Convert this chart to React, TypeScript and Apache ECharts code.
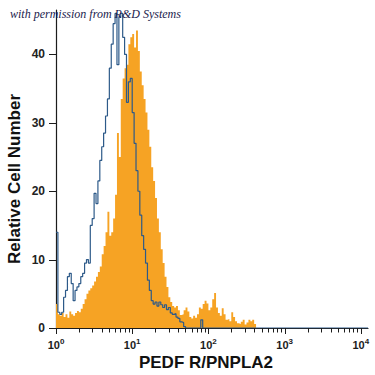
import React, { useEffect, useRef } from "react";
import * as echarts from "echarts";

// Histogram bins in log10 space (each bin is 0.025 decade wide, starting at 10^0)
const BIN_LOG_WIDTH = 0.025;
const X_LOG_MIN = 0;
const X_LOG_MAX = 4.094;
const Y_MAX = 46.5;

// PEDF R / PNPLA2 stained cells (orange filled histogram)
const stainedCounts = [
  3.5, 2.0, 1.8, 2.2, 1.6, 2.0, 1.5, 2.4, 2.0, 1.8,
  2.2, 2.5, 2.3, 2.8, 3.5, 4.2, 5.0, 5.5, 5.8, 6.2,
  6.8, 7.5, 8.2, 9.0, 10.8, 12.0, 14.0, 17.0, 13.5, 14.0,
  16.0, 19.5, 28.5, 25.0, 33.5, 36.5, 38.0, 38.5, 41.5, 42.5,
  43.0, 41.0, 43.5, 40.5, 37.5, 35.5, 33.5, 31.5, 29.0, 26.5,
  23.5, 21.5, 19.0, 16.0, 14.0, 11.5, 9.5, 7.5, 6.0, 4.5,
  3.8, 3.2, 3.0, 3.2, 2.6, 1.9, 2.0, 2.6, 3.0, 2.4,
  1.6, 1.4, 1.8, 1.5, 2.0, 3.0, 2.8, 3.5, 4.0, 3.6,
  2.6, 3.0, 4.2, 5.1, 3.0, 2.2, 1.8, 2.9, 2.0, 1.2,
  1.3, 1.0, 2.3, 1.6, 1.0, 0.7, 0.6, 0.9, 1.2, 0.5,
  0.8, 1.2, 1.0, 1.2, 0.6,
];

// Isotype control (blue outline histogram)
const isotypeCounts = [
  14.0, 2.3, 2.0, 2.3, 4.5, 5.5, 7.5, 8.0, 6.5, 4.0,
  5.5, 6.0, 6.5, 7.5, 8.0, 9.5, 10.0, 9.5, 15.0, 16.0,
  19.7, 18.2, 21.5, 24.5, 26.5, 28.5, 31.0, 33.5, 38.0, 41.5,
  44.5, 46.0, 38.5, 45.5, 46.0, 42.5, 40.0, 33.0, 36.0, 36.5,
  31.5, 27.0, 23.0, 20.0, 16.5, 13.5, 11.5, 9.5, 7.0, 5.5,
  4.0, 3.5, 3.8, 3.2, 3.8, 3.4, 3.0, 3.4, 2.7, 3.0,
  2.2, 2.0, 2.1, 1.6, 1.4, 0.9, 0.8, 0.2, 0, 0,
  0, 0, 0, 0, 0, 0, 1.2, 0,
];

const xDecades = [0, 1, 2, 3, 4];
const minorMultipliers = [2, 3, 4, 5, 6, 7, 8, 9];
const yTickValues = [0, 10, 20, 30, 40];

const ORANGE = "#F6A324";
const BLUE = "#2D5A89";
const INK = "#1c1c1c";

function stepData(counts: number[], tailTo?: number) {
  const pts: number[][] = counts.map((v, i) => [X_LOG_MIN + i * BIN_LOG_WIDTH, v]);
  pts.push([X_LOG_MIN + counts.length * BIN_LOG_WIDTH, 0]);
  if (tailTo !== undefined) pts.push([tailTo, 0]);
  return pts;
}

export default function App() {
  const ref = useRef<HTMLDivElement>(null);

  useEffect(() => {
    if (!ref.current) return;
    const chart = echarts.init(ref.current, undefined, { renderer: "svg" });

    const xTickPositions: number[] = [];
    xDecades.forEach((d) => {
      xTickPositions.push(d);
      if (d < xDecades[xDecades.length - 1]) {
        minorMultipliers.forEach((m) => xTickPositions.push(d + Math.log10(m)));
      }
    });

    const option: any = {
      animation: false,
      grid: { left: 56, right: 7, top: 10, bottom: 47 },
      xAxis: {
        type: "value",
        min: X_LOG_MIN,
        max: X_LOG_MAX,
        interval: 1,
        splitLine: { show: false },
        axisTick: { show: false },
        axisLine: { show: true, lineStyle: { color: INK, width: 1.2 } },
        axisLabel: {
          margin: 9,
          formatter: (v: number) =>
            Math.abs(v - Math.round(v)) < 1e-9 ? `{b|10}{s|${Math.round(v)}}` : "",
          rich: {
            b: { fontSize: 11, fontWeight: "bold", color: INK, fontFamily: "Liberation Sans", verticalAlign: "bottom" },
            s: { fontSize: 8, fontWeight: "bold", color: INK, fontFamily: "Liberation Sans", verticalAlign: "bottom", padding: [0, 0, 5, 0] },
          },
        },
      },
      yAxis: {
        type: "value",
        min: 0,
        max: Y_MAX,
        interval: 10,
        splitLine: { show: false },
        axisTick: { show: false },
        axisLine: { show: true, lineStyle: { color: INK, width: 1.2 } },
        axisLabel: {
          margin: 11,
          fontSize: 12,
          fontWeight: "bold",
          color: "#222",
          fontFamily: "Liberation Sans",
          formatter: (v: number) => (v % 10 === 0 ? String(v) : ""),
        },
      },
      series: [
        {
          type: "line",
          name: "PEDF R/PNPLA2",
          step: "end",
          data: stepData(stainedCounts),
          symbol: "none",
          lineStyle: { width: 0, opacity: 0 },
          areaStyle: { color: ORANGE, opacity: 1 },
          z: 2,
        },
        {
          type: "line",
          name: "Isotype",
          step: "end",
          data: stepData(isotypeCounts, X_LOG_MAX),
          symbol: "none",
          lineStyle: { color: BLUE, width: 1.2 },
          z: 3,
        },
        {
          type: "custom",
          name: "xticks",
          coordinateSystem: "cartesian2d",
          clip: false,
          silent: true,
          z: 5,
          data: xTickPositions.map((v) => [v, 0]),
          renderItem: (_p: any, api: any) => {
            const v = api.value(0);
            const major = Math.abs(v - Math.round(v)) < 1e-9;
            const p = api.coord([v, 0]);
            const x = Math.round(p[0]) + 0.5;
            return {
              type: "line",
              shape: { x1: x, y1: p[1], x2: x, y2: p[1] + (major ? 6 : 4.5) },
              style: { stroke: INK, lineWidth: 1 },
            };
          },
        },
        {
          type: "custom",
          name: "yticks",
          coordinateSystem: "cartesian2d",
          clip: false,
          silent: true,
          z: 5,
          data: yTickValues.map((v) => [0, v]),
          renderItem: (_p: any, api: any) => {
            const p = api.coord([0, api.value(1)]);
            const y = Math.round(p[1]) + 0.5;
            return {
              type: "line",
              shape: { x1: p[0] - 7, y1: y, x2: p[0], y2: y },
              style: { stroke: INK, lineWidth: 1 },
            };
          },
        },
      ],
      graphic: [
        {
          type: "text",
          left: 10,
          top: 8,
          z: 10,
          style: {
            text: "with permission from R&D Systems",
            font: "italic 12px 'Liberation Serif'",
            fill: "#1b1b4d",
          },
        },
        {
          type: "text",
          x: 206,
          y: 362,
          z: 10,
          style: {
            text: "PEDF R/PNPLA2",
            font: "bold 17px 'Liberation Sans'",
            fill: "#111",
            align: "center",
            verticalAlign: "middle",
          },
        },
        {
          type: "text",
          x: 14,
          y: 179,
          rotation: Math.PI / 2,
          z: 10,
          style: {
            text: "Relative Cell Number",
            font: "bold 17px 'Liberation Sans'",
            fill: "#111",
            align: "center",
            verticalAlign: "middle",
          },
        },
      ],
    };

    chart.setOption(option);
    return () => chart.dispose();
  }, []);

  return (
    <div
      ref={ref}
      style={{ position: "fixed", left: 0, top: 0, width: 375, height: 375, background: "#fff" }}
    />
  );
}
